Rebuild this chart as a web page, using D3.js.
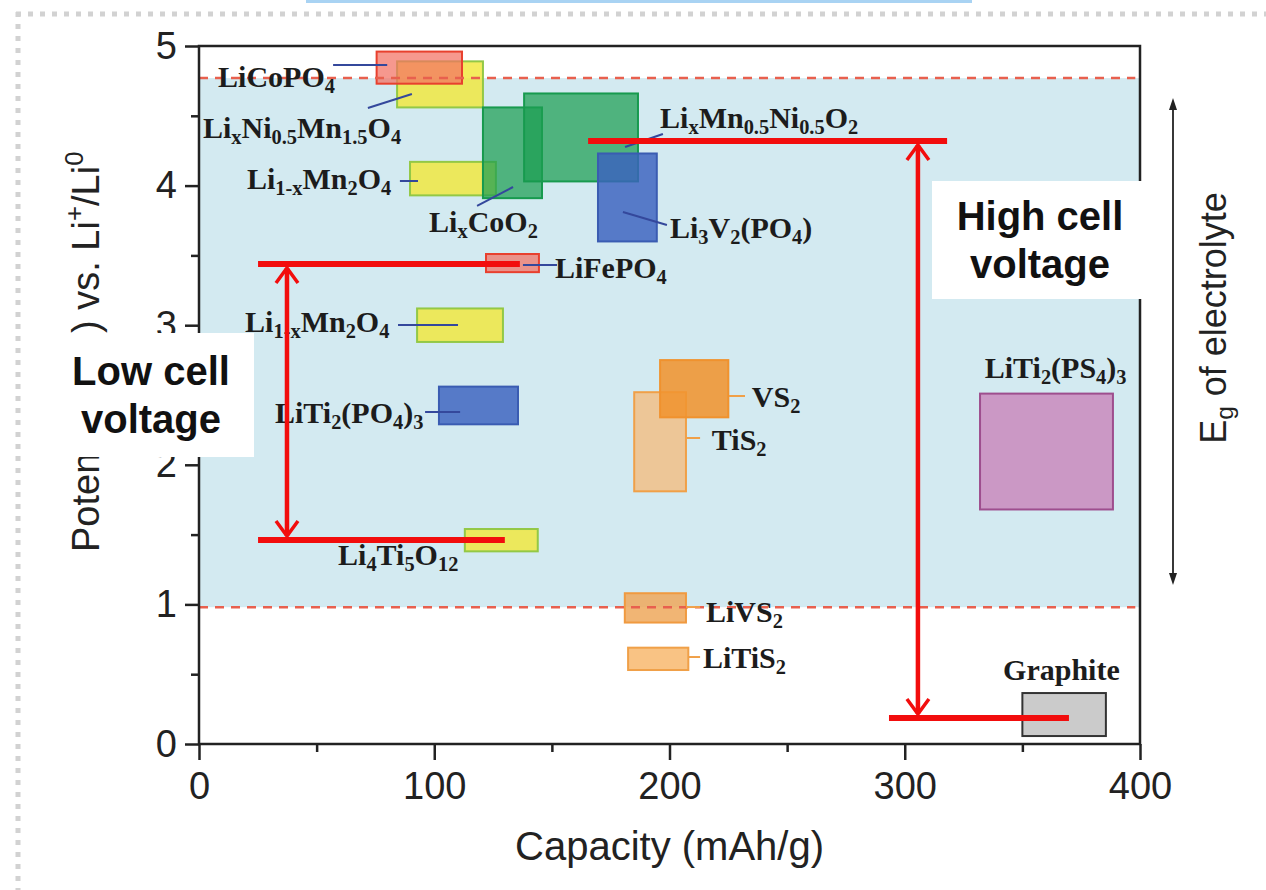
<!DOCTYPE html>
<html>
<head>
<meta charset="utf-8">
<script src="https://cdn.jsdelivr.net/npm/d3@7"></script>
<style>
  html, body { margin: 0; padding: 0; background: #fff; }
  svg { display: block; }
</style>
</head>
<body>
<svg id="chart" width="1266" height="890"></svg>
<script>
// ------------------------------------------------------------
// Data (capacity in mAh/g, potential in V vs Li+/Li)
// ------------------------------------------------------------

var xTicks = [0, 100, 200, 300, 400];
var xMinorTicks = [50, 150, 250, 350];
var yTicks = [0, 1, 2, 3, 4, 5];
var yMinorTicks = [0.5, 1.5, 2.5, 3.5, 4.5];

// electrolyte stability window (dashed lines)
var windowLimits = [0.98, 4.77];

// material boxes: capacity range, potential range, colour family
var materialNames = ["Li1-xMn2O4 (4V)", "LixNi0.5Mn1.5O4", "LiCoPO4", "LixCoO2", "LixMn0.5Ni0.5O2",
  "Li3V2(PO4)", "LiFePO4", "Li1-xMn2O4 (3V)", "LiTi2(PO4)3", "Li4Ti5O12", "TiS2", "VS2",
  "LiVS2", "LiTiS2", "LiTi2(PS4)3", "Graphite"];
var capLow  = [89.7, 84.2, 75.5, 120.7, 138.2, 169.6, 122.0,  92.7, 102.0, 113.0, 185.0, 196.0, 181.0, 182.4, 332.0, 350.0];
var capHigh = [126.2, 120.7, 111.8, 145.8, 186.6, 194.6, 144.5, 129.2, 135.6, 144.0, 207.0, 225.0, 207.0, 208.0, 388.5, 385.5];
var potLow  = [3.93, 4.56, 4.73, 3.91, 4.03, 3.60, 3.38, 2.88, 2.29, 1.38, 1.81, 2.34, 0.87, 0.53, 1.68, 0.057];
var potHigh = [4.17, 4.89, 4.96, 4.56, 4.66, 4.23, 3.51, 3.12, 2.56, 1.54, 2.52, 2.75, 1.08, 0.69, 2.51, 0.365];
var family  = ["yellow", "yellow", "red", "green", "green", "blue", "red", "yellow", "blue", "yellow",
  "paleorange", "orange", "midorange", "lightorange", "purple", "grey"];

// text labels: markup, anchor capacity, anchor potential (text start / baseline)
var labelText = ["LiCoPO_{4}", "Li_{x}Ni_{0.5}Mn_{1.5}O_{4}", "Li_{1-x}Mn_{2}O_{4}", "Li_{x}CoO_{2}",
  "Li_{x}Mn_{0.5}Ni_{0.5}O_{2}", "Li_{3}V_{2}(PO_{4})", "LiFePO_{4}", "Li_{1-x}Mn_{2}O_{4}",
  "LiTi_{2}(PO_{4})_{3}", "Li_{4}Ti_{5}O_{12}", "VS_{2}", "TiS_{2}", "LiTi_{2}(PS_{4})_{3}",
  "LiVS_{2}", "LiTiS_{2}", "Graphite"];
var labelCap = [8.1, 1.7, 20.4, 97.8, 196.0, 200.2, 151.3, 19.6, 32.3, 59.1, 235.0, 218.0, 334.0, 215.5, 214.2, 341.8];
var labelPot = [4.706, 4.341, 3.976, 3.668, 4.413, 3.625, 3.338, 2.951, 2.299, 1.282, 2.414, 2.106, 2.622, 0.874, 0.544, 0.458];

// leader lines from labels to boxes
var leaderCap0 = [57, 71.8, 85.4, 118.2, 181.1, 180.2, 137.7, 84.6, 96.1, 225.3, 207, 207, 207.9];
var leaderPot0 = [4.864, 4.556, 4.033, 3.854, 4.277, 3.811, 3.431, 3.001, 2.378, 2.493, 2.192, 0.981, 0.623];
var leaderCap1 = [80, 90.5, 93.1, 133.5, 197.2, 198.9, 152.2, 110.1, 111, 232.1, 213, 213, 213];
var leaderPot1 = [4.864, 4.656, 4.033, 3.990, 4.370, 3.718, 3.431, 3.001, 2.378, 2.493, 2.192, 0.981, 0.623];
var leaderKind = ["blue", "blue", "blue", "blue", "blue", "blue", "blue", "blue", "blue", "orange", "orange", "orange", "orange"];

// cell voltage annotations (red)
var spanNames = ["Low cell voltage", "High cell voltage"];
var spanCap = [37.4, 305.6];          // vertical double arrow position
var spanTop = [3.438, 4.32];          // upper potential
var spanBottom = [1.461, 0.186];      // lower potential
var spanTopFrom = [25.1, 165.4], spanTopTo = [136.4, 318.0];
var spanBotFrom = [25.1, 293.3], spanBotTo = [130.0, 369.8];

// ------------------------------------------------------------
// Layout
// ------------------------------------------------------------

var svg = d3.select("#chart");

var x = d3.scaleLinear().domain([0, 400]).range([199, 1140]);
var y = d3.scaleLinear().domain([0, 5]).range([744, 46]);

var sans = "'Liberation Sans', Arial, Helvetica, sans-serif";
var serif = "'Liberation Serif', 'Times New Roman', Times, serif";

var fills = {
  yellow:      { fill: "rgba(242,232,58,0.82)",  stroke: "#93c846" },
  green:       { fill: "rgba(28,158,82,0.72)",   stroke: "#179a4e" },
  blue:        { fill: "rgba(58,98,190,0.82)",   stroke: "#3a5cb2" },
  red:         { fill: "rgba(242,112,98,0.72)",  stroke: "#e8402e" },
  orange:      { fill: "rgba(240,148,48,0.88)",  stroke: "#f0922e" },
  paleorange:  { fill: "rgba(246,186,120,0.75)", stroke: "#f0a048" },
  midorange:   { fill: "rgba(238,168,92,0.85)",  stroke: "#f09a40" },
  lightorange: { fill: "rgba(248,190,122,0.92)", stroke: "#f0a048" },
  purple:      { fill: "rgba(200,120,180,0.72)", stroke: "#9e4e8e" },
  grey:        { fill: "#cbcbcb",                stroke: "#333" }
};

// writes "A_{sub}B^{sup}" style markup as tspans
function rich(textSel, str, fs) {
  var re = /([_^])\{([^}]*)\}|([^_^]+)/g, m, cur = 0;
  while ((m = re.exec(str))) {
    var shift = 0, t = m[3], size = null;
    if (m[1] === "_") { shift = 0.2 * fs; t = m[2]; size = fs * 0.68; }
    else if (m[1] === "^") { shift = -0.42 * fs; t = m[2]; size = fs * 0.68; }
    var ts = textSel.append("tspan").attr("dy", shift - cur).text(t);
    if (size) ts.attr("font-size", size);
    cur = shift;
  }
}

// page decoration: dotted frame and clipped top line
svg.append("rect").attr("x", 306).attr("y", 0).attr("width", 666).attr("height", 3).attr("fill", "#a9d3f3");
svg.append("line").attr("x1", 16).attr("x2", 1266).attr("y1", 14).attr("y2", 14)
  .attr("stroke", "#d2d2d2").attr("stroke-width", 5).attr("stroke-dasharray", "5 7");
svg.append("line").attr("x1", 18).attr("x2", 18).attr("y1", 12).attr("y2", 890)
  .attr("stroke", "#d2d2d2").attr("stroke-width", 5).attr("stroke-dasharray", "5 7");

// electrolyte window band
svg.append("rect")
  .attr("x", x(0)).attr("width", x(400) - x(0))
  .attr("y", y(windowLimits[1])).attr("height", y(windowLimits[0]) - y(windowLimits[1]))
  .attr("fill", "#d3eaf1");

// material boxes
svg.append("g").selectAll("rect")
  .data(materialNames)
  .enter().append("rect")
    .attr("x", function (d, i) { return x(capLow[i]); })
    .attr("width", function (d, i) { return x(capHigh[i]) - x(capLow[i]); })
    .attr("y", function (d, i) { return y(potHigh[i]); })
    .attr("height", function (d, i) { return y(potLow[i]) - y(potHigh[i]); })
    .attr("fill", function (d, i) { return fills[family[i]].fill; })
    .attr("stroke", function (d, i) { return fills[family[i]].stroke; })
    .attr("stroke-width", 2);

// dashed window limits
svg.append("g").selectAll("line")
  .data(windowLimits)
  .enter().append("line")
    .attr("x1", x(0)).attr("x2", x(398))
    .attr("y1", function (d) { return y(d); })
    .attr("y2", function (d) { return y(d); })
    .attr("stroke", "#e8604e").attr("stroke-width", 2.5)
    .attr("stroke-dasharray", "9 7");

// leader lines
svg.append("g").selectAll("line")
  .data(leaderKind)
  .enter().append("line")
    .attr("x1", function (d, i) { return x(leaderCap0[i]); })
    .attr("y1", function (d, i) { return y(leaderPot0[i]); })
    .attr("x2", function (d, i) { return x(leaderCap1[i]); })
    .attr("y2", function (d, i) { return y(leaderPot1[i]); })
    .attr("stroke", function (d) { return d === "blue" ? "#34489c" : "#f0a048"; })
    .attr("stroke-width", 2);

// material labels
var labelG = svg.append("g")
  .attr("font-family", serif).attr("font-weight", "bold")
  .attr("font-size", 30).attr("fill", "#1c1c1c");
labelText.forEach(function (s, i) {
  var t = labelG.append("text").attr("x", x(labelCap[i])).attr("y", y(labelPot[i]));
  rich(t, s, 30);
});

// axes
var axisG = svg.append("g").attr("font-family", sans);

axisG.append("g").attr("transform", "translate(0," + y(0) + ")")
  .call(d3.axisBottom(x).tickValues(xTicks).tickSize(16).tickSizeOuter(0).tickPadding(12)
    .tickFormat(d3.format("d")));
axisG.append("g").attr("transform", "translate(0," + y(0) + ")")
  .call(d3.axisBottom(x).tickValues(xMinorTicks).tickSize(8).tickSizeOuter(0).tickFormat(""));
axisG.append("g").attr("transform", "translate(" + x(0) + ",0)")
  .call(d3.axisLeft(y).tickValues(yTicks).tickSize(14).tickSizeOuter(0).tickPadding(8)
    .tickFormat(d3.format("d")));
axisG.append("g").attr("transform", "translate(" + x(0) + ",0)")
  .call(d3.axisLeft(y).tickValues(yMinorTicks).tickSize(8).tickSizeOuter(0).tickFormat(""));

axisG.selectAll(".domain").remove();
axisG.selectAll(".tick line").attr("stroke", "#222").attr("stroke-width", 2.5);
axisG.selectAll(".tick text").attr("font-size", 38).attr("fill", "#222").attr("font-family", sans);

// plot frame
svg.append("rect")
  .attr("x", x(0)).attr("y", y(5))
  .attr("width", x(400) - x(0)).attr("height", y(0) - y(5))
  .attr("fill", "none").attr("stroke", "#222").attr("stroke-width", 2.5);

// axis titles
svg.append("text")
  .attr("x", (x(0) + x(400)) / 2).attr("y", 860)
  .attr("text-anchor", "middle").attr("font-family", sans).attr("font-size", 40).attr("fill", "#222")
  .text("Capacity (mAh/g)");

var yTitle = svg.append("text")
  .attr("transform", "translate(99," + 552 + ") rotate(-90)")
  .attr("font-family", sans).attr("font-size", 38).attr("fill", "#222");
rich(yTitle, "Potential (V", 38);
yTitle.append("tspan").attr("x", 552 - 333).text(")");
rich(yTitle, " vs. Li^{+}/Li^{0}", 38);

// electrolyte window double arrow and label
var eg = svg.append("g");
eg.append("line").attr("x1", 1173).attr("x2", 1173).attr("y1", 104).attr("y2", 579)
  .attr("stroke", "#222").attr("stroke-width", 1.8);
eg.append("path").attr("d", "M1173,98 L1169,110 L1177,110 Z").attr("fill", "#222");
eg.append("path").attr("d", "M1173,585 L1169,573 L1177,573 Z").attr("fill", "#222");
var egText = eg.append("text")
  .attr("transform", "translate(1226,318) rotate(-90)")
  .attr("text-anchor", "middle").attr("font-family", sans).attr("font-size", 36).attr("fill", "#222");
rich(egText, "E_{g} of electrolyte", 36);

// red cell voltage annotations
var red = "#f20d0d";
var spanG = svg.append("g").attr("stroke", red).attr("fill", "none");
spanNames.forEach(function (name, i) {
  var cx = x(spanCap[i]), yt = y(spanTop[i]), yb = y(spanBottom[i]);
  spanG.append("line").attr("x1", x(spanTopFrom[i])).attr("x2", x(spanTopTo[i]))
    .attr("y1", yt).attr("y2", yt).attr("stroke-width", 6);
  spanG.append("line").attr("x1", x(spanBotFrom[i])).attr("x2", x(spanBotTo[i]))
    .attr("y1", yb).attr("y2", yb).attr("stroke-width", 6);
  spanG.append("line").attr("x1", cx).attr("x2", cx)
    .attr("y1", yt + 4).attr("y2", yb - 4).attr("stroke-width", 4.5);
  spanG.append("path").attr("d", "M" + (cx - 11) + "," + (yt + 19) + " L" + cx + "," + (yt + 4) + " L" + (cx + 11) + "," + (yt + 19))
    .attr("stroke-width", 3.5);
  spanG.append("path").attr("d", "M" + (cx - 11) + "," + (yb - 19) + " L" + cx + "," + (yb - 4) + " L" + (cx + 11) + "," + (yb - 19))
    .attr("stroke-width", 3.5);
});

// white callout boxes
var boxes = [
  { lines: ["Low cell", "voltage"], x0: 58, y0: 333, x1: 254, y1: 457, cx: 151, base: 385 },
  { lines: ["High cell", "voltage"], x0: 932, y0: 181, x1: 1143, y1: 299, cx: 1040, base: 230 }
];
boxes.forEach(function (b) {
  svg.append("rect").attr("x", b.x0).attr("y", b.y0)
    .attr("width", b.x1 - b.x0).attr("height", b.y1 - b.y0).attr("fill", "#fff");
  b.lines.forEach(function (l, j) {
    svg.append("text").attr("x", b.cx).attr("y", b.base + j * 48)
      .attr("text-anchor", "middle").attr("font-family", sans).attr("font-weight", "bold")
      .attr("font-size", 40).attr("fill", "#111").text(l);
  });
});
</script>
</body>
</html>
